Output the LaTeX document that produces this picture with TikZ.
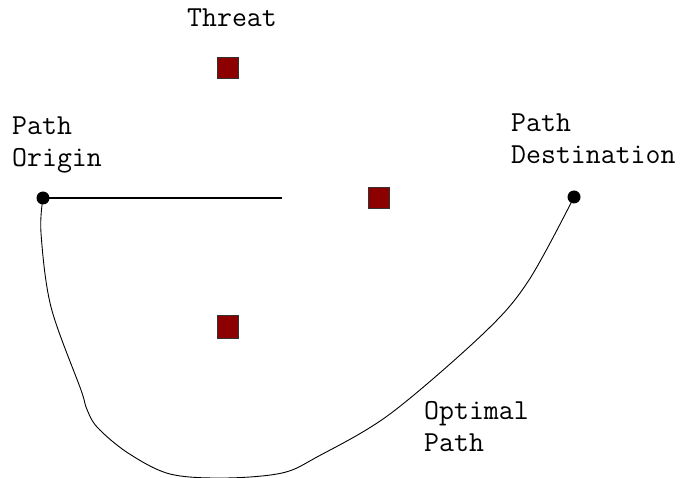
\documentclass[tikz,border=0pt]{standalone}
\tikzset{
    threat/.style={draw=black!80, fill=red!55!black, minimum size=21pt, inner sep=0, line width=0.8pt},
    waypoint/.style={circle, fill=black, minimum size=13pt, inner sep=0},
    label/.style={font=\ttfamily\fontsize{29}{32}\selectfont, align=left, inner sep=0, anchor=north west},
}
\begin{document}
\begin{tikzpicture}[x=1pt, y=-1pt]
    \useasboundingbox (0,0) rectangle (683,478);
    % threats
    \node[threat] (T1) at (227.5, 67.5) {};
    \node[threat] (T2) at (379, 198) {};
    \node[threat, minimum height=23pt] (T3) at (228, 327) {};
    % end points of the path
    \node[waypoint] (orig) at (43, 198) {};
    \node[waypoint] (dest) at (574, 197) {};
    \coordinate (stub) at (282, 198);
    % labels
    \node[label] (lthreat) at (187, 9) {Threat};
    \node[label] (lorig) at (12, 117) {Path\\Origin};
    \node[label] (ldest) at (511, 114) {Path\\Destination};
    \node[label] (lpath) at (424, 401) {Optimal\\Path};
    % straight line and the optimal path
    \draw[line width=1.4pt] (orig.center) -- (stub);
    \draw[line width=0.9pt] plot[smooth, tension=0.55] coordinates {(orig.center) (41, 233) (51, 307) (81, 390) (86, 407) (97, 427)
        (128, 453) (170, 474) (225, 478) (282, 473) (317, 457) (390, 414) (485, 332) (529, 280) (dest.center)};
\end{tikzpicture}
\end{document}
